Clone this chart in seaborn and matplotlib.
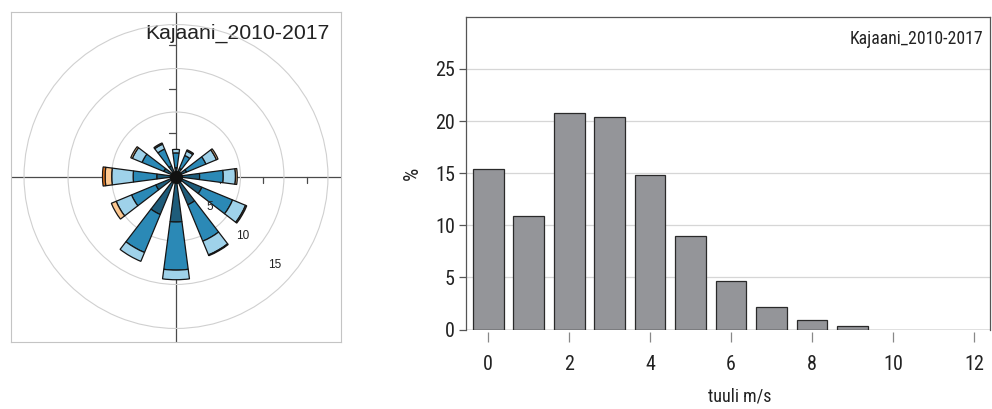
import numpy as np
import matplotlib
matplotlib.use("Agg")
import matplotlib.pyplot as plt
from matplotlib import font_manager
import seaborn as sns

# ---- wind rose: share of time (%) per direction sector and speed class ----
directions = [0, 30, 60, 90, 120, 150, 180, 210, 240, 270, 300, 330]
calm_low = [1.0, 1.0, 1.3, 2.7, 3.2, 3.5, 5.2, 4.7, 2.5, 2.2, 1.5, 1.3]
low = [1.7, 1.6, 2.4, 2.7, 3.8, 4.5, 5.5, 4.7, 3.0, 2.7, 2.7, 2.1]
moderate = [0.4, 0.55, 1.3, 1.4, 1.6, 1.7, 1.1, 1.1, 1.9, 2.45, 1.2, 0.6]
fresh = [0.0, 0.15, 0.2, 0.2, 0.15, 0.1, 0.0, 0.0, 0.6, 0.75, 0.2, 0.15]
strong = [0.0, 0.0, 0.0, 0.0, 0.0, 0.0, 0.0, 0.0, 0.0, 0.3, 0.0, 0.0]
class_colors = ["#1e5c7a", "#2b89b6", "#9fd2ea", "#fdc891", "#ef7a1d"]
ring_ticks = [5, 10, 15]
ring_radii = [7.37, 12.34, 17.37]
rose_title = "Kajaani_2010-2017"

# ---- wind speed distribution ----
speed = [0, 1, 2, 3, 4, 5, 6, 7, 8, 9]
share = [15.4, 10.9, 20.8, 20.4, 14.8, 9.0, 4.7, 2.2, 0.9, 0.3]
x_ticks = [0, 2, 4, 6, 8, 10, 12]
y_ticks = [0, 5, 10, 15, 20, 25]
hist_title = "Kajaani_2010-2017"
x_label = "tuuli m/s"
y_label = "%"

sns.set_theme(style="white")
plt.rcParams["font.family"] = ["Liberation Sans", "DejaVu Sans"]

# pick a narrow face for the histogram texts if one is installed
entries = font_manager.fontManager.ttflist
narrow, stretch, scale = "Liberation Sans", "normal", 0.85
for fam, st in [("Liberation Sans Narrow", None), ("Roboto Condensed", None),
                ("DejaVu Sans", "condensed"), ("Open Sans Condensed", None)]:
    hits = [f for f in entries if f.name == fam and (st is None or f.stretch == st)]
    if hits:
        narrow, stretch, scale = fam, (st or "normal"), 1.0
        break
PT = 0.72  # points per pixel at 100 dpi

W, H = 992, 409
fig = plt.figure(figsize=(W / 100, H / 100), dpi=100)

# ---------------- wind rose ----------------
R = 18.86
rect = [11 / W, 1 - 341.5 / H, 330 / W, 330 / H]

ax_bg = fig.add_axes(rect, zorder=0)
ax_bg.set_xlim(-R, R)
ax_bg.set_ylim(-R, R)
ax_bg.set_xticks([])
ax_bg.set_yticks([])
for s in ax_bg.spines.values():
    s.set_color("#c4c4c4")
    s.set_linewidth(0.8)
ax_bg.axhline(0, color="#4a4a4a", lw=0.9)
ax_bg.axvline(0, color="#4a4a4a", lw=0.9)
for t in ring_ticks:
    ax_bg.plot([t, t], [0, -0.8], color="#4a4a4a", lw=0.9)
    ax_bg.plot([-0.8, 0], [t, t], color="#4a4a4a", lw=0.9)
ax_bg.text(0.967, 0.917, rose_title, transform=ax_bg.transAxes,
           ha="right", va="baseline", fontsize=15.3, color="#222222")

ax_rose = fig.add_axes(rect, projection="polar", zorder=1)
ax_rose.patch.set_alpha(0)
ax_rose.set_theta_zero_location("N")
ax_rose.set_theta_direction(-1)
ax_rose.set_ylim(0, R)
ax_rose.spines["polar"].set_visible(False)
ax_rose.set_xticks([])
ax_rose.set_yticks(ring_radii)
ax_rose.set_yticklabels([])
ax_rose.yaxis.grid(True, color="#d0d0d0", lw=0.8)
ax_rose.set_axisbelow(True)

theta = np.deg2rad(directions)
width = np.deg2rad(15)
bottom = np.zeros(len(directions))
for vals, col in zip([calm_low, low, moderate, fresh, strong], class_colors):
    vals = np.asarray(vals)
    keep = vals > 0
    ax_rose.bar(theta[keep], vals[keep], width=width, bottom=bottom[keep],
                color=col, edgecolor="#151515", linewidth=0.9, zorder=2)
    bottom = bottom + vals
# hub where all sector outlines meet
ax_rose.scatter([0], [0], s=90, color="#111111", zorder=3, linewidths=0)

for t in ring_ticks:
    ax_rose.text(np.deg2rad(132), t + 0.2, str(t), ha="center", va="center",
                 fontsize=8.5, color="#222222", zorder=5)

# ---------------- speed histogram ----------------
ax = fig.add_axes([466 / W, 1 - 329.5 / H, 524 / W, 312.6 / H])
sns.barplot(x=speed, y=share, native_scale=True, width=0.76, color="#949599",
            saturation=1, edgecolor="#2a2a2a", linewidth=0.9, ax=ax, zorder=2)
ax.set_xlim(-0.55, 12.4)
ax.set_ylim(0, 30)
ax.set_yticks(y_ticks)
ax.set_xticks(x_ticks)
ax.set_yticklabels([str(v) for v in y_ticks])
ax.set_xticklabels([str(v) for v in x_ticks])
ax.yaxis.grid(True, color="#d6d6d6", lw=0.9, zorder=0)
ax.set_axisbelow(True)
ax.axhline(0, color="#333333", lw=0.9, zorder=3)
for side in ["left", "top", "right"]:
    ax.spines[side].set_color("#555555")
    ax.spines[side].set_linewidth(0.9)
ax.spines["bottom"].set_position(("outward", 2.5 * PT))
ax.spines["bottom"].set_visible(False)
ax.tick_params(axis="y", left=True, direction="out", length=7 * PT, width=0.9,
               color="#555555", pad=4 * PT, labelsize=14.5 * scale,
               labelfontfamily=narrow, labelcolor="#222222")
ax.tick_params(axis="x", bottom=True, direction="out", length=10 * PT, width=0.9,
               color="#888888", pad=13 * PT, labelsize=14.5 * scale,
               labelfontfamily=narrow, labelcolor="#222222")
for lab in ax.get_xticklabels() + ax.get_yticklabels():
    lab.set_fontstretch(stretch)
ax.set_xlabel(x_label, fontsize=13 * scale, family=narrow, stretch=stretch,
              color="#222222")
ax.xaxis.set_label_coords(0.522, -0.185)
ax.set_ylabel(y_label, fontsize=15 * scale, family=narrow, stretch=stretch,
              color="#222222")
ax.yaxis.set_label_coords(-0.085, 0.5)
ax.text(0.9866, 0.913, hist_title, transform=ax.transAxes, ha="right",
        va="baseline", fontsize=12.8 * scale, family=narrow, stretch=stretch,
        color="#222222")

fig.savefig("out.png", dpi=100)
